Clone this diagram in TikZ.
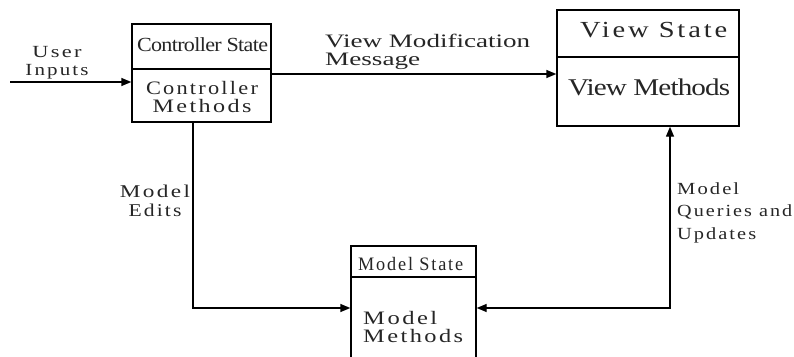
\documentclass[tikz,border=0pt]{standalone}
\usepackage{fontspec}
\setmainfont{Liberation Serif}
\newfontfamily\spaced{Liberation Serif}[LetterSpace=10]
\newfontfamily\tight{Liberation Serif}[LetterSpace=-3]
\usetikzlibrary{arrows.meta}
\newcommand\fw[2]{\resizebox{#1pt}{\height}{#2}}
\newcommand\fsz[2]{\fontsize{#1}{#2}\selectfont}
\tikzset{
  box/.style={draw, line width=1.4pt, inner sep=0pt, rectangle},
  divider/.style={line width=1.4pt},
  arr/.style={line width=1.4pt, -{Triangle[length=10pt,width=8pt]}},
  arrboth/.style={line width=1.4pt, {Triangle[length=10pt,width=8pt]}-{Triangle[length=10pt,width=8pt]}},
  lbl/.style={inner sep=0pt, text=black!85}
}
\begin{document}
\begin{tikzpicture}[x=1pt,y=-1pt]
\clip (0,0) rectangle (794,356);
\fill[white] (0,0) rectangle (794,356);
% boxes
\node[box, minimum width=139pt, minimum height=98pt] (ctrl) at (201.5,73) {};
\draw[divider] (ctrl.west |- 0,69) -- (ctrl.east |- 0,69);
\node[box, minimum width=182pt, minimum height=116pt] (view) at (648,68) {};
\draw[divider] (view.west |- 0,57) -- (view.east |- 0,57);
\node[box, minimum width=125pt, minimum height=130pt] (model) at (413.5,311) {};
\draw[divider] (model.west |- 0,277) -- (model.east |- 0,277);
% texts
\node[lbl, anchor=base, font=\fsz{20}{20}\tight] (cst) at (202.5,51) {\fw{131}{Controller State}};
\node[lbl, anchor=base, align=center, font=\fsz{19}{18}\spaced] (cm) at (202,112) {\fw{112}{Controller}\\\fw{99}{Methods}};
\node[lbl, anchor=base west, font=\fsz{23}{23}\spaced] (vs) at (580,37) {\fw{147}{View State}};
\node[lbl, anchor=base west, font=\fsz{24}{24}\tight] (vmeth) at (568,95) {\fw{162}{View Methods}};
\node[lbl, anchor=base west, align=left, font=\fsz{19}{18}] (vmm) at (325,65) {\fw{205}{View Modification}\\\fw{95}{Message}};
\node[lbl, anchor=base, align=center, font=\fsz{17}{18}\spaced] (ui) at (57,75) {\fw{49}{User}\\\fw{63}{Inputs}};
\node[lbl, anchor=base, align=center, font=\fsz{18}{19}\spaced] (me) at (155,216) {\fw{70}{Model}\\\fw{53}{Edits}};
\node[lbl, anchor=base west, font=\fsz{19}{19}\spaced] (ms) at (358,270) {\fw{105}{Model State}};
\node[lbl, anchor=base west, align=left, font=\fsz{19}{18}\spaced] (mm) at (363,342) {\fw{74}{M\hspace{2pt}odel}\\\fw{100}{M\hspace{2pt}ethods}};
\node[lbl, anchor=base west, align=left, font=\fsz{17}{22.5}\spaced] (mq) at (677,239) {\fw{62}{Model}\\\fw{115}{Queries and}\\\fw{79}{Updates}};
% connectors
\coordinate (uis) at (10,82);
\draw[arr] (uis) -- (uis -| ctrl.west);
\draw[arr] (ctrl.east |- 0,74) -- (view.west |- 0,74);
\draw[arr] (ctrl.south -| 193,0) |- (model.west |- 0,308);
\draw[arrboth] (model.east |- 0,308) -| (view.south -| 670,0);
\end{tikzpicture}
\end{document}
